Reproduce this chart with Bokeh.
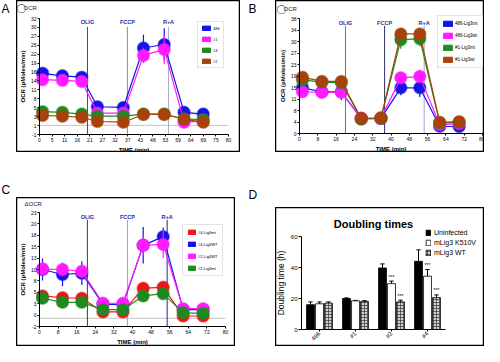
import math
import numpy as np
from bokeh.plotting import figure
from bokeh.layouts import row, column
from bokeh.models import Range1d, FixedTicker, Legend, LegendItem, Label, Span, Spacer, ColumnDataSource
from bokeh.embed import file_html
from bokeh.resources import INLINE
from bokeh.core.properties import value

FONT = "Liberation Sans"
NAVY = "#2a2a9c"

# ---------------- Panel A ----------------
a_time = [1.3, 9.7, 17.9, 24.5, 35.5, 44.0, 52.8, 61.2, 69.3]
a_names = ["486", "#1", "#4", "#2"]
a_colors = ["#1414e6", "#ff1aff", "#1f8a1f", "#a8420c"]
a_486 = [16.4, 15.7, 15.3, 6.9, 6.7, 23.6, 24.6, 5.3, 4.8]
a_486_err = [0.9, 0.7, 0.7, 0.5, 0.5, 3.8, 4.6, 0.5, 0.5]
a_n1 = [14.6, 14.4, 14.1, 5.1, 5.1, 21.5, 23.2, 2.5, 2.8]
a_n1_err = [0.6, 0.6, 0.6, 0.4, 0.4, 2.2, 4.2, 0.4, 0.4]
a_n4 = [5.5, 5.3, 4.8, 4.2, 4.2, 4.8, 4.8, 3.4, 3.3]
a_n4_err = [0.6, 0.5, 0.5, 0.4, 0.4, 0.4, 0.4, 0.4, 0.4]
a_n2 = [4.4, 4.2, 3.9, 2.7, 2.5, 4.7, 4.7, 3.4, 2.5]
a_n2_err = [0.5, 0.5, 0.5, 0.4, 0.4, 0.4, 0.4, 0.4, 0.4]
a_xtick_labels = ["0", "5", "11", "16", "21", "27", "32", "37", "43", "48", "53", "59", "64", "69", "75", "80"]
a_ytick_labels = ["-1", "1", "3", "5", "8", "11", "14", "16", "19", "22", "25", "27", "30", "32"]
a_inject_x = [20.3, 37.2, 54.6]
a_inject_colors = ["#4040a8", "#8a8aa8", "#a8b0cc"]
a_baseline = 1.6

# ---------------- Panel B ----------------
b_time = [1.3, 9.8, 18.3, 27.0, 35.6, 44.3, 52.6, 61.3, 69.8]
b_names = ["486-Lig3mt", "486-Lig3wt", "#1-Lig3mt", "#1-Lig3wt"]
b_colors = ["#1414e6", "#ff1aff", "#1f8a1f", "#a8420c"]
b_486mt = [15.1, 13.8, 13.8, 4.9, 5.0, 15.1, 15.1, 2.4, 2.3]
b_486mt_err = [0.8, 1.0, 2.8, 0.4, 0.4, 2.5, 3.0, 0.4, 0.4]
b_486wt = [13.8, 13.6, 13.6, 5.0, 5.0, 18.4, 18.8, 2.9, 3.2]
b_486wt_err = [1.8, 2.0, 1.0, 0.4, 0.4, 1.5, 2.2, 0.4, 0.4]
b_1mt = [17.7, 17.0, 16.8, 4.8, 5.0, 31.0, 31.3, 3.4, 3.7]
b_1mt_err = [1.0, 0.8, 0.8, 0.4, 0.4, 3.0, 2.5, 0.4, 0.4]
b_1wt = [18.6, 17.2, 17.2, 5.0, 5.1, 32.9, 32.9, 3.7, 3.9]
b_1wt_err = [0.8, 0.8, 0.8, 0.4, 0.4, 2.0, 1.5, 0.4, 0.4]
b_xtick_labels = ["0", "8", "16", "24", "32", "40", "48", "56", "64", "72", "80"]
b_ytick_labels = ["0", "4", "8", "11", "15", "19", "23", "27", "30", "34", "38"]
b_inject_x = [20.1, 37.2, 54.5]
b_inject_colors = ["#7070a0", "#303060", "#a0a8c8"]

# ---------------- Panel C ----------------
c_time = [1.3, 9.9, 18.2, 27.3, 35.9, 44.6, 53.2, 61.8, 70.4]
c_names = ["#4-Lig3mt", "#4-Lig3WT", "#2-Lig3WT", "#2-Lig3mt"]
c_colors = ["#f01414", "#1414e6", "#ff1aff", "#1f8a1f"]
c_4mt = [4.7, 4.3, 4.2, 1.2, 1.2, 6.4, 6.6, 0.3, 0.3]
c_4mt_err = [1.0, 0.8, 0.8, 0.4, 0.4, 0.6, 0.6, 0.3, 0.3]
c_4wt = [10.5, 9.4, 9.7, 2.9, 2.8, 15.8, 17.7, 1.7, 1.7]
c_4wt_err = [2.4, 2.6, 2.6, 0.5, 0.5, 4.0, 2.0, 0.4, 0.4]
c_2wt = [10.6, 10.5, 10.1, 3.1, 3.1, 15.8, 16.0, 1.9, 1.9]
c_2wt_err = [1.5, 1.5, 1.5, 0.5, 0.5, 2.0, 3.0, 0.4, 0.4]
c_2mt = [4.2, 3.3, 3.3, 1.7, 1.7, 4.7, 5.2, 1.0, 0.9]
c_2mt_err = [1.2, 1.0, 1.0, 0.4, 0.4, 1.0, 1.2, 0.3, 0.3]
c_xtick_labels = ["0", "8", "16", "24", "32", "40", "48", "56", "64", "72", "80"]
c_ytick_labels = ["-2", "0", "3", "5", "8", "10", "13", "15", "18", "20", "23"]
c_inject_x = [20.6, 37.8, 54.9]
c_inject_colors = ["#3030a0", "#a0a0b4", "#2020a0"]
c_baseline = -0.2

inject_labels = ["OLIG", "FCCP", "R+A"]

# ---------------- Panel D ----------------
d_cats = ["486", "#1", "#2", "#4"]
d_names = ["Uninfected", "mLig3 K510V", "mLig3 WT"]
d_uninf = [16.0, 20.0, 39.7, 44.0]
d_uninf_err = [1.8, 0.4, 2.6, 7.4]
d_k510v = [16.6, 18.5, 29.6, 34.4]
d_k510v_err = [1.2, 0.3, 1.6, 4.3]
d_wt = [17.0, 18.1, 17.8, 20.6]
d_wt_err = [0.8, 0.5, 1.1, 1.7]
d_sig_k510v = ["", "", "***", "***"]
d_sig_wt = ["", "", "***", "***"]


def frame_ranges(w, h, insets, xlim, ylim):
    """Ranges so that the data limits sit at the given pixel insets of a w x h frame."""
    l, r, t, b = insets
    sx = (w - l - r) / (xlim[1] - xlim[0])
    sy = (h - t - b) / (ylim[1] - ylim[0])
    xr = Range1d(xlim[0] - l / sx, xlim[1] + r / sx)
    yr = Range1d(ylim[0] - b / sy, ylim[1] + t / sy)
    return xr, yr, sx, sy


def boxed_figure(w, h, xr, yr):
    p = figure(width=w, height=h, x_range=xr, y_range=yr, toolbar_location=None,
               output_backend="svg", min_border=0,
               border_fill_color="white", background_fill_color="white",
               outline_line_color="black", outline_line_width=1.5)
    p.grid.visible = False
    return p


def style_axes(p, xlim, ylim, tick_fs="5px", label_fs="6px"):
    p.xaxis.fixed_location = ylim[0]
    p.yaxis.fixed_location = xlim[0]
    p.xaxis.bounds = (xlim[0], xlim[1])
    p.yaxis.bounds = (ylim[0], ylim[1])
    for ax in list(p.xaxis) + list(p.yaxis):
        ax.axis_line_color = "black"
        ax.axis_line_width = 1
        ax.major_tick_line_color = "black"
        ax.major_tick_out = 2
        ax.major_tick_in = 0
        ax.minor_tick_line_color = None
        ax.major_label_text_font = FONT
        ax.major_label_text_font_size = tick_fs
        ax.major_label_text_color = "black"
        ax.major_label_standoff = 1
        ax.axis_label_text_font = FONT
        ax.axis_label_text_font_size = label_fs
        ax.axis_label_text_font_style = "bold"
        ax.axis_label_text_color = "black"
        ax.axis_label_standoff = 2


def ocr_panel(w, h, insets, ylim, xticks, xlabels, yticks, ylabels,
              times, series, inj_x, inj_col, inj_lab_y, inj_top, base_y,
              legend_loc, legend_kw, tag_px, tag_text, circle):
    xlim = (0, 80)
    xr, yr, sx, sy = frame_ranges(w, h, insets, xlim, ylim)
    p = boxed_figure(w, h, xr, yr)
    xt = [float(v) for v in xticks]
    yt = [float(v) for v in yticks]
    p.xaxis.ticker = FixedTicker(ticks=xt)
    p.xaxis.major_label_overrides = dict(zip(xt, xlabels))
    p.yaxis.ticker = FixedTicker(ticks=yt)
    p.yaxis.major_label_overrides = dict(zip(yt, ylabels))
    p.xaxis.axis_label = "TIME (min)"
    p.yaxis.axis_label = "OCR (pMoles/min)"
    style_axes(p, xlim, ylim)

    if base_y is not None:
        p.segment(x0=[xlim[0]], y0=[base_y], x1=[xlim[1]], y1=[base_y], line_color="#b4b4b4", line_width=0.8)

    n = len(inj_x)
    p.segment(x0=inj_x, y0=[ylim[0]] * n, x1=inj_x, y1=[inj_top] * n, line_color=inj_col, line_width=1)
    p.text(x=inj_x, y=[inj_lab_y] * n, text=inject_labels, text_align="center", text_baseline="middle",
           text_font=value(FONT), text_font_size="5.5px", text_font_style="bold", text_color=NAVY)

    items = []
    for vals, errs, col, name in series:
        src = ColumnDataSource(dict(t=times, v=vals,
                                    lo=[a - e for a, e in zip(vals, errs)],
                                    hi=[a + e for a, e in zip(vals, errs)]))
        p.segment(x0="t", y0="lo", x1="t", y1="hi", source=src, line_color=col, line_width=1.2)
        p.line("t", "v", source=src, line_color=col, line_width=1.2)
        p.scatter("t", "v", source=src, size=12, fill_color=col, line_color=col, line_alpha=0.5, line_width=1.5)
        swatch = p.quad(left="t", right="t", top="v", bottom="v", source=src,
                        fill_color=col, line_color=col, visible=False)
        items.append(LegendItem(label=name, renderers=[swatch]))

    leg = Legend(items=items, location=legend_loc, border_line_color="#c8c8c8", border_line_width=1,
                 background_fill_color="white", background_fill_alpha=1,
                 label_text_font=FONT, label_text_color="black", label_standoff=2, label_width=4,
                 **legend_kw)
    p.add_layout(leg)

    # tag in the upper-left corner of the box (pixel offsets inside the box)
    cx, tx, ty = tag_px
    to_x = lambda px: xlim[0] + (px - insets[0]) / sx
    to_y = lambda py: ylim[1] + (insets[2] - py) / sy
    if circle:
        p.add_layout(Label(x=to_x(cx), y=to_y(ty), text="\u25ef", text_font="DejaVu Sans",
                           text_font_size="9px", text_align="center", text_baseline="middle",
                           text_color="#555555"))
    p.add_layout(Label(x=to_x(tx), y=to_y(ty), text=tag_text, text_font=FONT, text_font_size="6px",
                       text_align="left", text_baseline="middle", text_color="#222222"))
    return p


def letter_fig(w, h, ch, x, y):
    p = figure(width=w, height=h, x_range=Range1d(0, w), y_range=Range1d(h, 0),
               toolbar_location=None, output_backend="svg", x_axis_type=None, y_axis_type=None,
               min_border=0, outline_line_color=None, border_fill_color=None, background_fill_color=None)
    p.text(x=[x], y=[y], text=[ch], text_font=value(FONT), text_font_size="12px",
           text_align="left", text_baseline="top", text_color="black")
    return p


pA = ocr_panel(224, 152, (23, 12, 18, 18), (-1, 32),
               np.linspace(0, 80, 16), a_xtick_labels, np.linspace(-1, 32, 14), a_ytick_labels,
               a_time,
               [(a_486, a_486_err, a_colors[0], a_names[0]),
                (a_n1, a_n1_err, a_colors[1], a_names[1]),
                (a_n4, a_n4_err, a_colors[2], a_names[2]),
                (a_n2, a_n2_err, a_colors[3], a_names[3])],
               a_inject_x, a_inject_colors, 30.9, 29.6, a_baseline,
               (181, 84), dict(padding=3, spacing=5, glyph_width=10, glyph_height=6,
                               label_height=6, label_text_font_size="4px"),
               (5, 7, 7), "OCR", True)

pB = ocr_panel(209, 152, (24, 2, 18, 19), (0, 38),
               np.linspace(0, 80, 11), b_xtick_labels, np.linspace(0, 38, 11), b_ytick_labels,
               b_time,
               [(b_486mt, b_486mt_err, b_colors[0], b_names[0]),
                (b_486wt, b_486wt_err, b_colors[1], b_names[1]),
                (b_1mt, b_1mt_err, b_colors[2], b_names[2]),
                (b_1wt, b_1wt_err, b_colors[3], b_names[3])],
               b_inject_x, b_inject_colors, 36.6, 35.6, None,
               (162, 84), dict(padding=4, spacing=5, glyph_width=11, glyph_height=7,
                               label_height=7, label_text_font_size="4.5px"),
               (6, 8, 8), "OCR", True)

pC = ocr_panel(219, 149, (23, 10, 15, 20), (-2, 23),
               np.linspace(0, 80, 11), c_xtick_labels, np.linspace(-2, 23, 11), c_ytick_labels,
               c_time,
               [(c_4mt, c_4mt_err, c_colors[0], c_names[0]),
                (c_4wt, c_4wt_err, c_colors[1], c_names[1]),
                (c_2wt, c_2wt_err, c_colors[2], c_names[2]),
                (c_2mt, c_2mt_err, c_colors[3], c_names[3])],
               c_inject_x, c_inject_colors, 22.1, 21.4, c_baseline,
               (166, 70), dict(padding=4, spacing=6, glyph_width=9, glyph_height=6,
                               label_height=6, label_text_font_size="4px"),
               (0, 8, 6), "\u0394OCR", False)

# ---------------- Panel D figure ----------------
d_w, d_h = 209, 139
d_xlim = (0, len(d_cats))
d_ylim = (0, 60)
d_insets = (26, 209 - 26 - 36 * len(d_cats), 29, 17)
dxr, dyr, dsx, dsy = frame_ranges(d_w, d_h, d_insets, d_xlim, d_ylim)
pD = boxed_figure(d_w, d_h, dxr, dyr)
pos = np.arange(len(d_cats)) + 0.5
pD.xaxis.ticker = FixedTicker(ticks=[float(v) for v in pos])
pD.xaxis.major_label_overrides = {float(v): c for v, c in zip(pos, d_cats)}
pD.yaxis.ticker = FixedTicker(ticks=[0, 20, 40, 60])
pD.yaxis.axis_label = "Doubling time (h)"
style_axes(pD, d_xlim, d_ylim, tick_fs="6px", label_fs="8.5px")
pD.yaxis.axis_label_text_font_style = "normal"
pD.yaxis.major_tick_out = 3
pD.xaxis.major_label_orientation = math.pi / 4

bw = 0.22
offs = [-0.25, 0.0, 0.25]
bar_styles = [dict(fill_color="black", line_color="black"),
              dict(fill_color="white", line_color="black"),
              dict(fill_color="#d0d0d0", line_color="black", hatch_pattern="cross",
                   hatch_color="#333333", hatch_scale=3, hatch_weight=0.7)]
bar_vals = [d_uninf, d_k510v, d_wt]
bar_errs = [d_uninf_err, d_k510v_err, d_wt_err]
bar_sigs = [None, d_sig_k510v, d_sig_wt]
d_items = []
for off, vals, errs, sty, sig, name in zip(offs, bar_vals, bar_errs, bar_styles, bar_sigs, d_names):
    xs = pos + off
    tops = [v + e for v, e in zip(vals, errs)]
    pD.segment(x0=xs, y0=vals, x1=xs, y1=tops, line_color="black", line_width=1)
    pD.segment(x0=xs - 0.06, y0=tops, x1=xs + 0.06, y1=tops, line_color="black", line_width=1)
    bars = pD.vbar(x=xs, top=vals, bottom=0, width=bw, line_width=0.8, **sty)
    if sig is not None:
        pD.text(x=xs, y=[t + 1.0 for t in tops], text=sig, text_align="center", text_baseline="bottom",
                text_font=value(FONT), text_font_size="5px", text_color="black")
    d_items.append(LegendItem(label=name, renderers=[bars]))

pD.add_layout(Legend(items=d_items, location=(150, 90), border_line_color=None, background_fill_alpha=0,
                     padding=0, spacing=3, glyph_width=6, glyph_height=7, label_height=7, label_width=4,
                     label_standoff=3, label_text_font=FONT, label_text_color="black",
                     label_text_font_size="7px"))
pD.add_layout(Label(x=float(np.mean(pos)), y=d_ylim[1] + (d_insets[2] - 16.5) / dsy, text="Doubling times",
                    text_font=FONT, text_font_size="11px", text_font_style="bold", text_align="center",
                    text_baseline="middle", text_color="black"))

# ---------------- letters and layout ----------------
lA = letter_fig(16, 152, "A", 1, 1)
lB = letter_fig(35, 152, "B", 8, 1)
lC = letter_fig(16, 194, "C", 1, 30)
lD = letter_fig(40, 194, "D", 13, 35)

r1 = row(lA, pA, lB, pB)
r2 = row(lC, column(Spacer(width=219, height=45), pC), lD, column(Spacer(width=209, height=55), pD))
layout = column(r1, r2)

open("out.html", "w").write(file_html(layout, INLINE))
